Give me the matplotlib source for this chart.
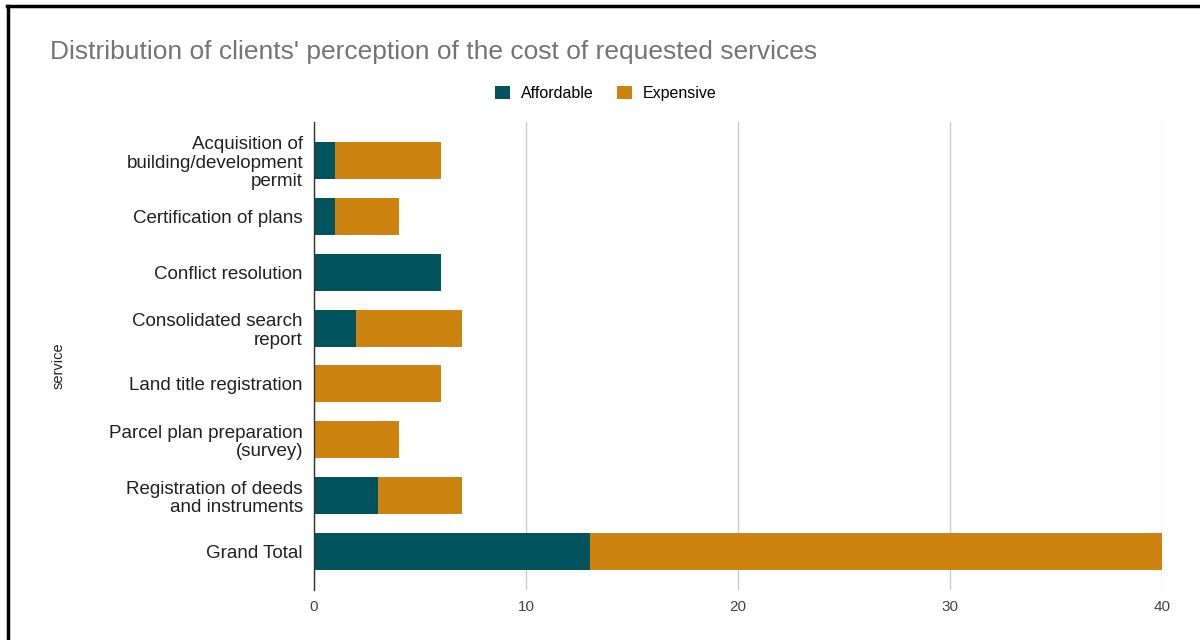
import numpy as np
import matplotlib.pyplot as plt
from matplotlib.lines import Line2D

plt.rcParams['font.family'] = ['Liberation Sans', 'DejaVu Sans']

services = [
    "Acquisition of\nbuilding/development\npermit",
    "Certification of plans",
    "Conflict resolution",
    "Consolidated search\nreport",
    "Land title registration",
    "Parcel plan preparation\n(survey)",
    "Registration of deeds\nand instruments",
    "Grand Total",
]
affordable = [1, 1, 6, 2, 0, 0, 3, 13]
expensive = [5, 3, 0, 5, 6, 4, 4, 27]
xticks = [0, 10, 20, 30, 40]

TEAL = "#01535e"
ORANGE = "#cd830f"

fig = plt.figure(figsize=(12, 6.4), dpi=100)
ax = fig.add_axes([0.2617, 0.0781, 0.7066, 0.7313])

y = np.arange(len(services))
ax.barh(y, affordable, height=0.66, color=TEAL, label="Affordable")
ax.barh(y, expensive, left=affordable, height=0.66, color=ORANGE, label="Expensive")

ax.set_ylim(len(services) - 0.31, -0.69)
ax.set_xlim(0, 40)
ax.set_xticks(xticks)
ax.set_yticks(y)
ax.set_yticklabels(services, fontsize=13.5, color="#222222", linespacing=1.12)
ax.tick_params(axis="x", labelsize=11, colors="#444444", length=0, pad=7)
ax.tick_params(axis="y", length=0, pad=8)
ax.grid(axis="x", color="#cccccc", lw=1)
ax.set_axisbelow(True)
for s in ["top", "right", "bottom"]:
    ax.spines[s].set_visible(False)
ax.spines["left"].set_color("#333333")
ax.spines["left"].set_linewidth(1)
ax.set_ylabel("service", fontsize=10.5, color="#222222")
ax.yaxis.set_label_coords(-0.2935, 0.479)

fig.text(0.0417, 0.918, "Distribution of clients' perception of the cost of requested services",
         fontsize=19, color="#757575", va="center", ha="left")
fig.legend(loc="center", bbox_to_anchor=(0.505, 0.854), ncol=2, frameon=False,
           fontsize=11.5, handlelength=0.9, handleheight=0.9, columnspacing=1.5,
           handletextpad=0.7)

# frame lines on top and left edges
fig.add_artist(Line2D([0.006, 1.0], [0.991, 0.991], color="black", lw=2.5,
                      transform=fig.transFigure))
fig.add_artist(Line2D([0.0065, 0.0065], [0.0, 0.991], color="black", lw=2.5,
                      transform=fig.transFigure))

fig.savefig("out.png", dpi=100)
